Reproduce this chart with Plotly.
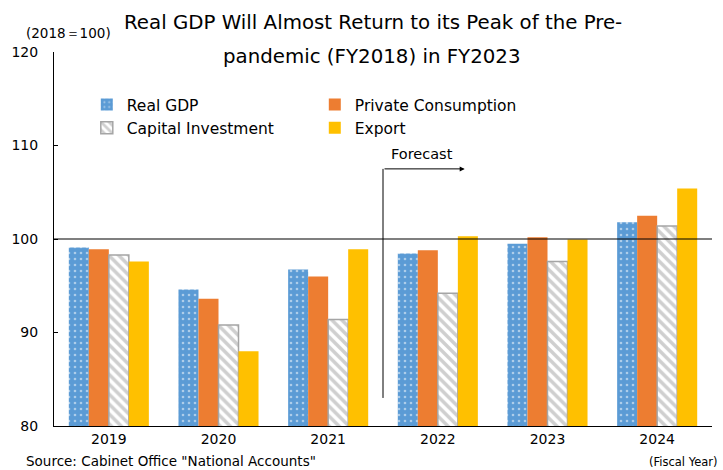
import plotly.graph_objects as go

years = ["2019", "2020", "2021", "2022", "2023", "2024"]
real_gdp = [99.1, 94.6, 96.75, 98.45, 99.5, 101.8]
private_consumption = [98.9, 93.6, 96.0, 98.8, 100.2, 102.5]
capital_investment = [98.3, 90.8, 91.4, 94.2, 97.6, 101.4]
export = [97.6, 88.0, 98.9, 100.3, 99.95, 105.4]

x = list(range(len(years)))
FONT = "DejaVu Sans"

fig = go.Figure()
fig.add_trace(go.Bar(
    x=x, y=real_gdp, name="Real GDP",
    marker=dict(color="#5B9BD5", line=dict(width=0),
                pattern=dict(shape=".", fgcolor="#ffffff", bgcolor="#5B9BD5", size=6, solidity=0.15)),
))
fig.add_trace(go.Bar(
    x=x, y=private_consumption, name="Private Consumption",
    marker=dict(color="#ED7D31", line=dict(width=0)),
))
fig.add_trace(go.Bar(
    x=x, y=capital_investment, name="Capital Investment",
    marker=dict(color="#ffffff", line=dict(color="#A5A5A5", width=1.5),
                pattern=dict(shape="\\", fgcolor="#A0A0A0", bgcolor="#ffffff", size=7, solidity=0.5)),
))
fig.add_trace(go.Bar(
    x=x, y=export, name="Export",
    marker=dict(color="#FFC000", line=dict(width=0)),
))

# 100 reference line
fig.add_shape(type="line", xref="paper", yref="y", x0=0, x1=1, y0=100, y1=100,
              line=dict(color="#000000", width=1.2))
# forecast vertical line
fig.add_shape(type="line", xref="x", yref="y", x0=2.5, x1=2.5, y0=83.0, y1=107.5,
              line=dict(color="#000000", width=1))
# forecast arrow
fig.add_annotation(x=3.245, y=107.5, ax=2.5, ay=107.5, xref="x", yref="y", axref="x", ayref="y",
                   text="", showarrow=True, arrowhead=2, arrowsize=1, arrowwidth=1, arrowcolor="#000000")
fig.add_annotation(x=2.86, y=109.1, xref="x", yref="y", text="Forecast", showarrow=False,
                   font=dict(family=FONT, size=14.5, color="#000000"))

# title (two lines, wide line spacing)
fig.add_annotation(x=(371 - 50) / 662, y=1 + (52 - 23) / 374, xref="paper", yref="paper",
                   text="Real GDP Will Almost Return to its Peak of the Pre-", showarrow=False,
                   font=dict(family=FONT, size=19.8, color="#000000"), xanchor="center", yanchor="middle")
fig.add_annotation(x=(370 - 50) / 662, y=1 + (52 - 56) / 374, xref="paper", yref="paper",
                   text="pandemic (FY2018) in FY2023", showarrow=False,
                   font=dict(family=FONT, size=19.8, color="#000000"), xanchor="center", yanchor="middle")
# unit label
fig.add_annotation(x=(65 - 50) / 662, y=1 + (52 - 33) / 374, xref="paper", yref="paper",
                   text="(2018＝100)", showarrow=False,
                   font=dict(family=FONT, size=13.5, color="#000000"), xanchor="center", yanchor="middle")
# source
fig.add_annotation(x=(20 - 50) / 662, y=-(461 - 426) / 374, xref="paper", yref="paper",
                   text='Source: Cabinet Office "National Accounts"', showarrow=False,
                   font=dict(family=FONT, size=13.5, color="#000000"), xanchor="left", yanchor="middle")
fig.add_annotation(x=(720 - 50) / 662, y=-(462 - 426) / 374, xref="paper", yref="paper",
                   text="(Fiscal Year)", showarrow=False,
                   font=dict(family=FONT, size=11.5, color="#000000"), xanchor="right", yanchor="middle")

fig.update_layout(
    width=723, height=470,
    margin=dict(l=50, r=11, t=52, b=44),
    paper_bgcolor="#ffffff", plot_bgcolor="#ffffff",
    barmode="group", bargap=0.27, bargroupgap=0,
    font=dict(family=FONT, size=13, color="#000000"),
    showlegend=True,
    legend=dict(orientation="h", x=(83 - 50) / 662, y=1 - (88 - 52) / 374,
                xanchor="left", yanchor="top",
                entrywidth=183, itemwidth=30, traceorder="normal",
                font=dict(family=FONT, size=15.5, color="#000000"),
                bgcolor="rgba(0,0,0,0)", tracegroupgap=0),
    xaxis=dict(range=[-0.5, 5.5], tickvals=x, ticktext=years, showline=True,
               linecolor="#000000", linewidth=1, ticks="", showgrid=False, zeroline=False,
               tickfont=dict(family=FONT, size=14)),
    yaxis=dict(range=[80, 120], dtick=10, tick0=80, showline=True, linecolor="#000000", linewidth=1,
               ticks="inside", ticklen=4, tickcolor="#000000", showgrid=False, zeroline=False,
               tickfont=dict(family=FONT, size=14), ticklabelstandoff=12),
)

fig.write_html("out.html")
